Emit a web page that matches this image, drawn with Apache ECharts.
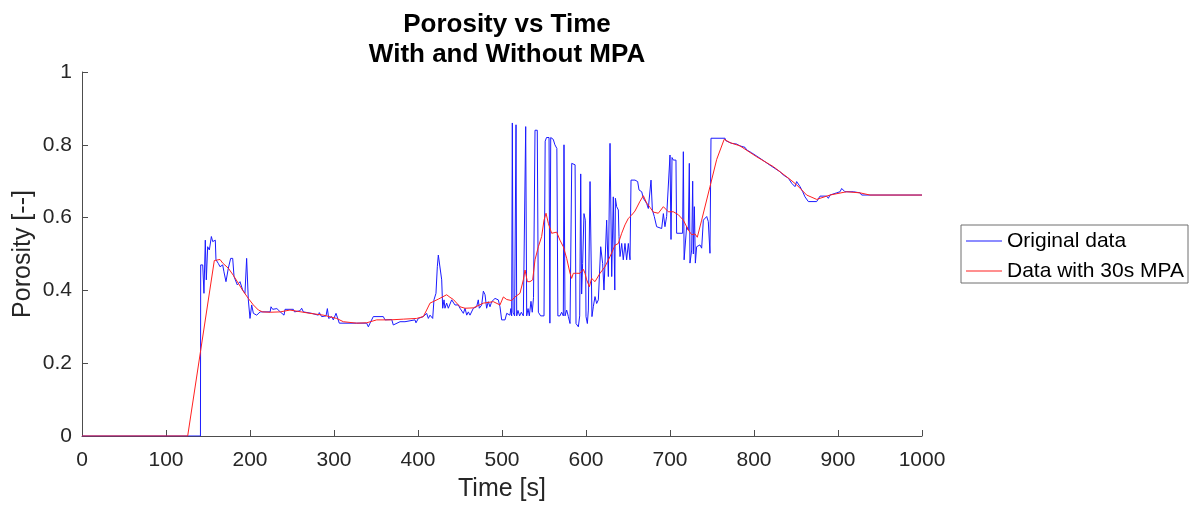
<!DOCTYPE html>
<html>
<head>
<meta charset="utf-8">
<script src="https://cdn.jsdelivr.net/npm/echarts@6/dist/echarts.min.js"></script>
<style>
html,body{margin:0;padding:0;background:#fff;}
#chart{width:1198px;height:506px;}
</style>
</head>
<body>
<div id="chart"></div>
<script>
// ---- data: [time (s), porosity] ----
const titleLines = ['Porosity vs Time', 'With and Without MPA'];
const seriesNames = ['Original data', 'Data with 30s MPA'];
const xTicks = [0, 100, 200, 300, 400, 500, 600, 700, 800, 900, 1000];
const yTicks = [0, 0.2, 0.4, 0.6, 0.8, 1];

const originalStart = [
  [0,0],[141,0],[141.3,0.47],[143.7,0.47],[145.2,0.392],[146.8,0.538],[148,0.429],[149.6,0.52],
  [151.6,0.511],[154,0.548],[155.6,0.534],[157.1,0.538],[158.7,0.538],[159.5,0.484],[162.3,0.474],
  [164.3,0.465],[167.5,0.47],[169,0.451],[171.4,0.424],[174.2,0.461],[177,0.488],[179.4,0.488],
  [181,0.438],[183.3,0.433],[184.9,0.415],[188.1,0.424],[191.3,0.401],[194,0.392],[196,0.488],
  [196.8,0.488],[198,0.374],[200,0.323],[202,0.36],[204,0.337],[208,0.332],[212,0.341],[224,0.341],
  [225,0.355],[227,0.348],[232,0.35],[236,0.341],[240.5,0.332],[241.7,0.348],[251.6,0.348],
  [253,0.341],[259.5,0.344]
];
const originalMiddle = [
  [261.5,0.351],[263.5,0.341],[273.4,0.337],[275.4,0.332],[281.3,0.332],[282.5,0.339],[285.3,0.328],
  [290.5,0.33],[292.1,0.35],[293.7,0.323],[297.2,0.328],[299.2,0.319],[302.4,0.337],[304,0.337],
  [306.3,0.31],[327,0.31],[338.9,0.31],[340.9,0.3],[342.9,0.31],[346.8,0.328],[358.7,0.328],
  [360.7,0.319],[368.7,0.32],[370.6,0.305],[372.6,0.31],[378.6,0.314],[384.5,0.314],[396.4,0.319],
  [397.6,0.311],[400.4,0.323],[406.3,0.328],[410.3,0.337],[412.3,0.323],[414.3,0.332],[417.5,0.323],
  [419,0.374],[421.4,0.392],[423,0.465],[424.2,0.497],[426.2,0.493],[428.2,0.429],[429.4,0.351],
  [431,0.374],[432.1,0.351],[434.1,0.365],[436.1,0.351],[438.1,0.355],[440.1,0.374],[442.1,0.378],
  [444,0.36],[446,0.355],[448,0.36],[450,0.351],[452,0.355],[454,0.337],[456,0.351],[458,0.332],
  [459.9,0.341],[461.9,0.332],[463.9,0.337],[465.9,0.351],[469.8,0.355],[471.8,0.374],[473,0.351],
  [475.8,0.36],[477.8,0.398],[479.8,0.388],[481.7,0.351],[483.7,0.369],[485.7,0.355],[487.7,0.369],
  [491.7,0.378],[495.6,0.374],[497.6,0.355],[499.6,0.319],[503.6,0.319],[505.6,0.337],[509.5,0.332]
];
const originalNoisy = [
  [510.5,0.35],[511.5,0.33],[512.3,0.86],[513.2,0.34],[515,0.33],[516.7,0.855],[517.5,0.33],
  [519,0.345],[521,0.33],[523,0.34],[525.4,0.33],[528.2,0.85],[529.4,0.33],[531,0.35],[532.5,0.33],
  [534.5,0.37],[536,0.34],[537.5,0.38],[539.3,0.84],[542,0.84],[543.3,0.34],[546,0.33],[550,0.33],
  [551.4,0.81],[553,0.82],[556,0.82],[557,0.31],[558,0.82],[561,0.815],[563,0.8],[565.3,0.79],
  [566.5,0.33],[569,0.33],[571,0.34],[573,0.33],[573.8,0.8],[575,0.33],[577,0.346],[579,0.328],
  [581,0.309],[583,0.749],[587,0.745],[588.1,0.309],[590.9,0.3],[592.5,0.33],[593.7,0.72],
  [594.8,0.39],[596,0.474],[597.6,0.611],[599.2,0.593],[600,0.328],[601.6,0.309],[602.8,0.346],
  [604.8,0.699],[606,0.694],[607.1,0.328],[608.7,0.355],[610.7,0.383],[612.7,0.364],[614.7,0.374],
  [617.5,0.52],[619.8,0.474],[621.4,0.401],[624.6,0.593],[626.6,0.438],[628.6,0.804],[630.6,0.438],
  [632.5,0.657],[634.3,0.401],[635,0.653],[636.5,0.63],[638.5,0.621],[639.3,0.548],[640.5,0.493],
  [642.5,0.529],[644.4,0.484],[646.4,0.529],[648.4,0.484],[650.4,0.529],[652.4,0.484],[653.6,0.703],
  [658.3,0.703],[660.3,0.708],[661.5,0.699],[663.1,0.676],[666.3,0.671],[668.3,0.653],[672.2,0.639],
  [674.2,0.625],[677.4,0.703],[679,0.621],[681.3,0.603],[684.1,0.575],[690.1,0.57],[692.1,0.611],
  [694,0.575],[696,0.603],[700,0.772],[701.2,0.54],[702.4,0.765],[704,0.758],[707.1,0.758],
  [707.9,0.557],[715,0.557],[715.9,0.781],[716.8,0.484],[719,0.484],[719.8,0.575],[721.8,0.566],
  [723,0.749],[723.8,0.475],[725.8,0.511],[727,0.7],[727.8,0.5],[729,0.63],[730.2,0.475],
  [731.7,0.52],[733.7,0.516],[735.7,0.525],[737.7,0.516],[739.7,0.593],[741.7,0.598],[743.7,0.603],
  [745.6,0.589],[747.6,0.502]
];
const originalEnd = [
  [748.8,0.818],[765.5,0.818],[766.7,0.811],[773.4,0.804],[779.4,0.802],[783.3,0.797],[789.3,0.793],
  [791.3,0.786],[797.2,0.778],[807.1,0.763],[819,0.744],[830.9,0.726],[835,0.717],[841,0.708],
  [845,0.694],[848.8,0.685],[850.8,0.699],[852.8,0.699],[854.8,0.685],[858,0.671],[860.7,0.657],
  [864.7,0.644],[874.6,0.644],[875.4,0.648],[878.6,0.659],[886.5,0.659],[888.5,0.653],[890.5,0.662],
  [898.4,0.668],[902.4,0.671],[904.4,0.68],[908.3,0.671],[918.3,0.671],[926.2,0.668],[928.2,0.662],
  [938.1,0.662],[1000,0.662]
];

const mpaStart = [
  [0,0],[125.8,0],[157.5,0.482],[164.3,0.485],[167.5,0.475],[174.2,0.461],[180,0.442],[186,0.42],
  [191.3,0.4],[198,0.378],[204,0.36],[210,0.346],[215,0.341],[224,0.34],[236,0.341],[247.6,0.346],
  [271.4,0.337],[287.3,0.332],[303.2,0.323],[311.1,0.314],[327,0.31],[338.9,0.311],[350.8,0.319],
  [366.7,0.319],[382.5,0.321],[398.4,0.323],[406.3,0.328],[410.3,0.346],[414.3,0.365],[424.2,0.376],
  [434.1,0.388],[438.1,0.381],[442.1,0.375],[450,0.355],[456,0.351],[465.9,0.352],[477.8,0.365],
  [489.7,0.369],[497.6,0.36],[501.6,0.382],[505.6,0.375],[511.5,0.372]
];
const mpaMiddle = [
  [515.5,0.382],[521.4,0.392],[525.4,0.429],[527.4,0.456],[530.2,0.424],[533.3,0.424],[536.5,0.429],
  [539.3,0.484],[543.3,0.52],[547.2,0.548],[550,0.593],[552.4,0.612],[555.2,0.584],[559.1,0.557],
  [561.1,0.558],[565.1,0.56],[567.1,0.561],[569,0.538],[573,0.52],[577,0.488],[581,0.447],
  [582.9,0.433],[584.9,0.447],[588.9,0.447],[592.9,0.447],[596.8,0.458],[598.8,0.447],[600.8,0.429],
  [604,0.41],[606.7,0.433],[610.7,0.424],[612.7,0.429],[616.7,0.447],[622.6,0.465],[628.6,0.493],
  [634.5,0.524],[638.5,0.529],[642.5,0.557],[646.4,0.58],[650.4,0.598],[654.4,0.607],[658.3,0.618],
  [664.3,0.645],[668.3,0.66],[672.2,0.64],[676.2,0.628]
];
const mpaEnd = [
  [680.2,0.615],[686.1,0.612],[692.1,0.63],[698,0.616],[704,0.616],[709.9,0.608],[715.9,0.593],
  [721.8,0.566],[725.8,0.553],[729.8,0.555],[732.5,0.546],[737.7,0.593],[747.6,0.685],[755.6,0.76],
  [764.5,0.815],[771.4,0.806],[783.3,0.797],[803.2,0.767],[823,0.74],[831,0.726],[842.9,0.705],
  [850.8,0.69],[862.7,0.662],[874.6,0.65],[890.5,0.662],[910.3,0.671],[926.2,0.668],[938.1,0.662],
  [1000,0.662]
];

const originalData = originalStart.concat(originalMiddle, originalNoisy, originalEnd);
const mpaData = mpaStart.concat(mpaMiddle, mpaEnd);

const FONT = "'Liberation Sans', Arial, sans-serif";
const AXIS_COLOR = '#4d4d4d';
const TEXT_COLOR = '#262626';

const chart = echarts.init(document.getElementById('chart'), null, {renderer: 'canvas'});
chart.setOption({
  animation: false,
  backgroundColor: '#ffffff',
  title: {
    text: titleLines.join('\n'),
    left: 502,
    top: 5,
    textAlign: 'center',
    textStyle: {fontFamily: FONT, fontSize: 26, fontWeight: 'bold', color: '#000', lineHeight: 30}
  },
  legend: {
    data: seriesNames,
    orient: 'vertical',
    left: 961,
    top: 225,
    padding: [4, 4, 0, 5],
    itemGap: 6,
    itemWidth: 36,
    itemHeight: 1,
    icon: 'rect',
    borderColor: '#6e6e6e',
    borderWidth: 1,
    textStyle: {fontFamily: FONT, fontSize: 21, color: '#000', lineHeight: 24}
  },
  grid: {left: 82, right: 276, top: 72, bottom: 70, containLabel: false, outerBoundsMode: 'none'},
  xAxis: {
    type: 'value',
    min: xTicks[0],
    max: xTicks[xTicks.length - 1],
    interval: xTicks[1] - xTicks[0],
    name: 'Time [s]',
    nameLocation: 'middle',
    nameGap: 41,
    nameTextStyle: {fontFamily: FONT, fontSize: 25, color: TEXT_COLOR},
    axisLine: {show: true, lineStyle: {color: AXIS_COLOR, width: 1}},
    axisTick: {show: true, inside: true, length: 6, lineStyle: {color: AXIS_COLOR}},
    axisLabel: {fontFamily: FONT, fontSize: 21, color: TEXT_COLOR, margin: 14,
      formatter: function (v) { return String(v); }},
    splitLine: {show: false}
  },
  yAxis: {
    type: 'value',
    min: yTicks[0],
    max: yTicks[yTicks.length - 1],
    interval: yTicks[1] - yTicks[0],
    name: 'Porosity [--]',
    nameLocation: 'middle',
    nameGap: 46,
    nameMoveOverlap: false,
    nameRotate: 90,
    nameTextStyle: {fontFamily: FONT, fontSize: 25, color: TEXT_COLOR},
    axisLine: {show: true, lineStyle: {color: AXIS_COLOR, width: 1}},
    axisTick: {show: true, inside: true, length: 6, lineStyle: {color: AXIS_COLOR}},
    axisLabel: {fontFamily: FONT, fontSize: 21, color: TEXT_COLOR, margin: 10,
      formatter: function (v) { return String(Math.round(v * 10) / 10); }},
    splitLine: {show: false}
  },
  series: [
    {
      name: seriesNames[0],
      type: 'line',
      data: originalData,
      symbol: 'none',
      showSymbol: false,
      lineStyle: {color: '#1a1aff', width: 1},
      itemStyle: {color: '#1a1aff'},
      z: 2
    },
    {
      name: seriesNames[1],
      type: 'line',
      data: mpaData,
      symbol: 'none',
      showSymbol: false,
      lineStyle: {color: '#ff2020', width: 1},
      itemStyle: {color: '#ff2020'},
      z: 3
    }
  ]
});
</script>
</body>
</html>
